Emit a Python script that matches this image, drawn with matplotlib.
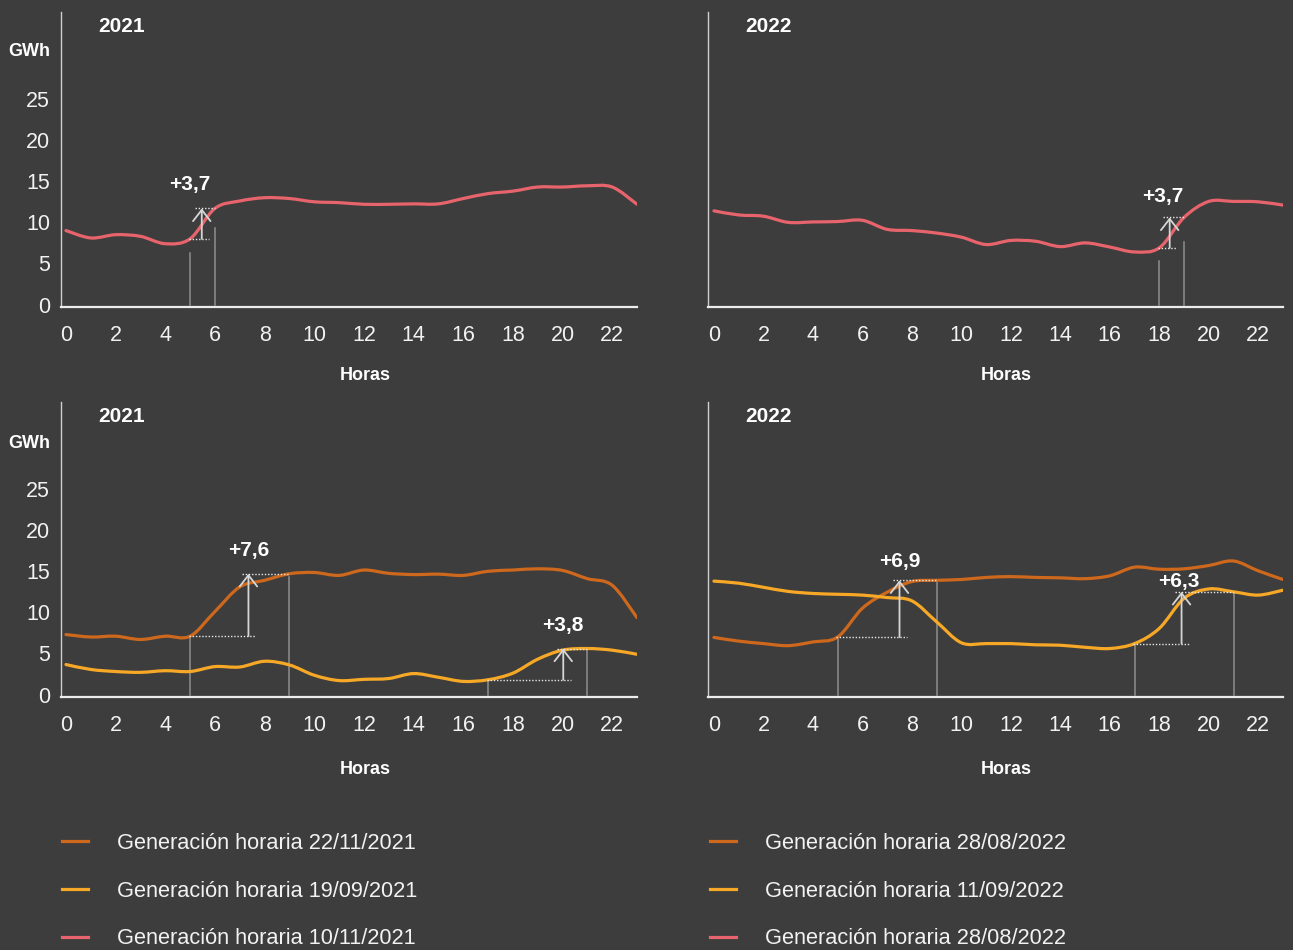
import matplotlib
matplotlib.use("Agg")
import matplotlib.pyplot as plt
from matplotlib.path import Path
from matplotlib.patches import PathPatch, FancyArrowPatch
from matplotlib.lines import Line2D
import numpy as np

# ---------------------------------------------------------------- data (GWh)
hours = list(range(24))
x_ticks = list(range(0, 23, 2))
y_ticks = [0, 5, 10, 15, 20, 25]

gen_10_11_2021 = [9.0, 8.1, 8.5, 8.3, 7.4, 8.0, 11.7, 12.6, 13.0, 12.9, 12.5, 12.4,
                  12.2, 12.2, 12.25, 12.25, 12.9, 13.5, 13.8, 14.3, 14.3, 14.45, 14.3, 12.2]
gen_28_08_2022_b = [11.4, 10.9, 10.75, 10.0, 10.05, 10.1, 10.25, 9.15, 9.0, 8.7, 8.2, 7.3,
                    7.8, 7.7, 7.05, 7.5, 7.0, 6.4, 6.9, 10.6, 12.55, 12.55, 12.5, 12.1]
gen_22_11_2021 = [7.3, 7.0, 7.1, 6.7, 7.1, 7.1, 10.1, 13.1, 13.9, 14.7, 14.85, 14.5,
                  15.15, 14.75, 14.6, 14.65, 14.5, 15.0, 15.15, 15.3, 15.1, 14.1, 13.3, 9.35]
gen_19_09_2021 = [3.65, 3.05, 2.8, 2.7, 2.9, 2.8, 3.4, 3.35, 4.05, 3.6, 2.35, 1.7,
                  1.85, 1.95, 2.55, 2.1, 1.6, 1.8, 2.6, 4.3, 5.4, 5.6, 5.4, 4.9]
gen_28_08_2022 = [6.95, 6.5, 6.2, 5.95, 6.4, 7.0, 10.5, 12.45, 13.75, 13.9, 14.0, 14.25,
                  14.35, 14.25, 14.2, 14.1, 14.45, 15.5, 15.25, 15.3, 15.7, 16.25, 15.05, 14.0]
gen_11_09_2022 = [13.8, 13.55, 13.05, 12.55, 12.3, 12.2, 12.1, 11.8, 11.4, 8.85, 6.3, 6.2,
                  6.2, 6.05, 6.0, 5.75, 5.6, 6.2, 8.05, 11.7, 12.85, 12.5, 12.1, 12.7]

# ramp increases shown on each panel: (series, start hour, end hour, increase)
ramps_tl = [(gen_10_11_2021, 5, 6, 3.7)]
ramps_tr = [(gen_28_08_2022_b, 18, 19, 3.7)]
ramps_bl = [(gen_22_11_2021, 5, 9, 7.6), (gen_19_09_2021, 17, 21, 3.8)]
ramps_br = [(gen_28_08_2022, 5, 9, 6.9), (gen_11_09_2022, 17, 21, 6.3)]

legend_left = ["Generación horaria 22/11/2021", "Generación horaria 19/09/2021",
               "Generación horaria 10/11/2021"]
legend_right = ["Generación horaria 28/08/2022", "Generación horaria 11/09/2022",
                "Generación horaria 28/08/2022"]

# ---------------------------------------------------------------- styling
BG = "#3d3d3d"
C_DARK = "#CD681D"
C_YELLOW = "#F6A826"
C_PINK = "#E8646D"
FONT = ["Liberation Sans", "DejaVu Sans"]
plt.rcParams["font.family"] = FONT

W, H = 1293, 950
fig = plt.figure(figsize=(W / 100, H / 100), dpi=100, facecolor=BG)


def px_rect(x0, y_top, x1, y_bottom):
    return [x0 / W, 1 - y_bottom / H, (x1 - x0) / W, (y_bottom - y_top) / H]


def smooth_path(xs, ys):
    """Catmull-Rom style cubic Bezier path through the hourly values."""
    pts = np.column_stack([xs, ys]).astype(float)
    n = len(pts)
    verts = [pts[0]]
    codes = [Path.MOVETO]
    for i in range(n - 1):
        p0 = pts[i - 1] if i > 0 else pts[i]
        p1, p2 = pts[i], pts[i + 1]
        p3 = pts[i + 2] if i + 2 < n else pts[i + 1]
        verts += [p1 + (p2 - p0) / 6.0, p2 - (p3 - p1) / 6.0, p2]
        codes += [Path.CURVE4] * 3
    return Path(verts, codes)


def setup_axes(rect, xlim, show_y):
    ax = fig.add_axes(rect, facecolor=BG)
    ax.set_xlim(*xlim)
    ax.set_ylim(-0.3, 35.6)
    ax.set_xticks(x_ticks)
    ax.set_yticks(y_ticks)
    for s in ("top", "right"):
        ax.spines[s].set_visible(False)
    ax.spines["left"].set_color("#cfcfcf")
    ax.spines["left"].set_linewidth(1.0)
    ax.spines["bottom"].set_color("#ececec")
    ax.spines["bottom"].set_linewidth(1.6)
    ax.tick_params(axis="both", length=0, labelsize=15.5, colors="#f2f2f2")
    ax.tick_params(axis="x", pad=13)
    ax.tick_params(axis="y", pad=8, labelleft=show_y)
    return ax


def draw_series(ax, values, color):
    patch = PathPatch(smooth_path(hours, values), facecolor="none", edgecolor=color,
                      lw=2.3, capstyle="round", joinstyle="round", zorder=3,
                      transform=ax.transData)
    ax.add_patch(patch)


def draw_ramp(ax, ramp, xa, drops, label_off):
    values, h0, h1, inc = ramp
    base = values[h0]
    top = base + inc
    grey = "#8e8e8e"
    ax.plot([h0, h0], [0, base - drops[0]], color=grey, lw=1.1, zorder=2)
    ax.plot([h1, h1], [0, top - drops[1]], color=grey, lw=1.1, zorder=2)
    dot = dict(color="#e8e8e8", lw=1.0, linestyle=(0, (1, 1.3)), zorder=4)
    ax.plot([h0 - 0.05, xa + 0.3], [base, base], **dot)
    ax.plot([xa - 0.27, h1], [top, top], **dot)
    arrow = FancyArrowPatch((xa, base), (xa, top),
                            arrowstyle="->,head_length=0.45,head_width=0.35",
                            mutation_scale=18, color="#d6d6d6", lw=1.3,
                            shrinkA=0, shrinkB=0, zorder=5)
    ax.add_patch(arrow)
    label = "+" + f"{inc:.1f}".replace(".", ",")
    ax.text(xa + label_off[0], top + label_off[1], label, ha="center", va="center",
            color="white", fontsize=15, fontweight="bold", zorder=6)


def panel_title(ax, text):
    ax.text(0.106, 0.95, text, transform=ax.transAxes, ha="center", va="center",
            color="white", fontsize=15, fontweight="bold")


# ---------------------------------------------------------------- panels
ax_tl = setup_axes(px_rect(61, 12, 637, 307), (-0.2, 23), True)
ax_tr = setup_axes(px_rect(708, 12, 1283, 307), (-0.24, 23), False)
ax_bl = setup_axes(px_rect(61, 402, 637, 697), (-0.2, 23), True)
ax_br = setup_axes(px_rect(708, 402, 1283, 697), (-0.24, 23), False)

draw_series(ax_tl, gen_10_11_2021, C_PINK)
draw_series(ax_tr, gen_28_08_2022_b, C_PINK)
draw_series(ax_bl, gen_22_11_2021, C_DARK)
draw_series(ax_bl, gen_19_09_2021, C_YELLOW)
draw_series(ax_br, gen_28_08_2022, C_DARK)
draw_series(ax_br, gen_11_09_2022, C_YELLOW)

draw_ramp(ax_tl, ramps_tl[0], 5.47, (1.7, 2.4), (-0.5, 2.9))
draw_ramp(ax_tr, ramps_tr[0], 18.42, (1.6, 3.05), (-0.3, 2.6))
draw_ramp(ax_bl, ramps_bl[0], 7.35, (0.0, 0.4), (0.0, 2.8))
draw_ramp(ax_bl, ramps_bl[1], 20.03, (0.0, 0.0), (0.0, 2.85))
draw_ramp(ax_br, ramps_br[0], 7.5, (0.0, 0.0), (0.0, 2.3))
draw_ramp(ax_br, ramps_br[1], 18.9, (0.0, 0.0), (-0.1, 1.3))

panel_title(ax_tl, "2021")
panel_title(ax_tr, "2022")
panel_title(ax_bl, "2021")
panel_title(ax_br, "2022")

lab = dict(color="white", fontsize=13, fontweight="bold", ha="center", va="center")
fig.text(29 / W, 1 - 52 / H, "GWh", **lab)
fig.text(29 / W, 1 - 443 / H, "GWh", **lab)
fig.text(365 / W, 1 - 376 / H, "Horas", **lab)
fig.text(1006 / W, 1 - 376 / H, "Horas", **lab)
fig.text(365 / W, 1 - 770 / H, "Horas", **lab)
fig.text(1006 / W, 1 - 770 / H, "Horas", **lab)

# ---------------------------------------------------------------- legends
def legend_block(labels, colors, x_px):
    handles = [Line2D([], [], color=c, lw=2.3) for c in colors]
    leg = fig.legend(handles, labels, loc="upper left",
                     bbox_to_anchor=(x_px / W, 1 - 833 / H),
                     frameon=False, fontsize=15.7, labelcolor="#f2f2f2",
                     handlelength=1.2, handletextpad=1.33, labelspacing=1.22,
                     borderpad=0, borderaxespad=0)
    return leg

legend_block(legend_left, [C_DARK, C_YELLOW, C_PINK], 62)
legend_block(legend_right, [C_DARK, C_YELLOW, C_PINK], 710)

fig.savefig("out.png", dpi=100, facecolor=BG)
